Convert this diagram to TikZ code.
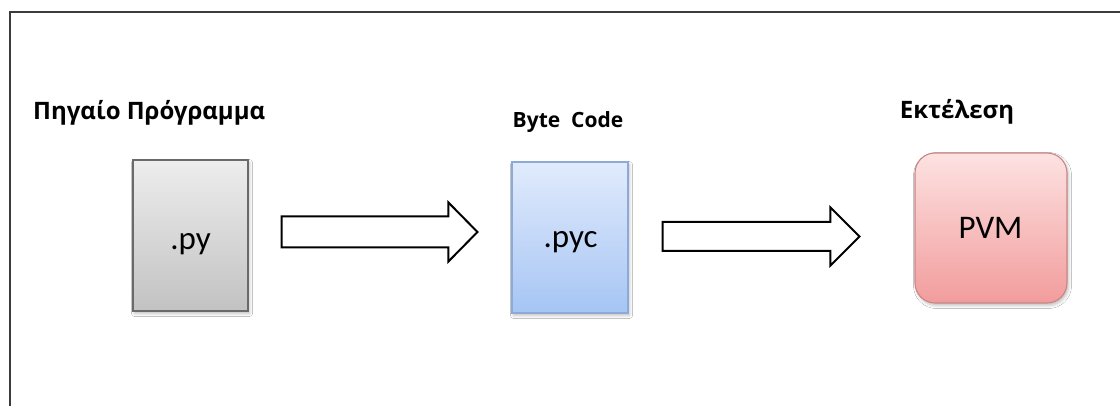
\documentclass[tikz,border=0pt]{standalone}
\usepackage{fontspec}
\setmainfont{Carlito}
\newfontfamily\headfont{Open Sans}
\usetikzlibrary{calc,shadows.blur}

\definecolor{frameline}{HTML}{3C3C3C}
\definecolor{srcTop}{HTML}{EDEDED}
\definecolor{srcBot}{HTML}{C2C2C2}
\definecolor{srcLine}{HTML}{6A6A6A}
\definecolor{bcTop}{HTML}{E1EBFC}
\definecolor{bcBot}{HTML}{A6C5F4}
\definecolor{bcLine}{HTML}{8DA9D8}
\definecolor{vmTop}{HTML}{FDE2E2}
\definecolor{vmBot}{HTML}{F29C9C}
\definecolor{vmLine}{HTML}{C98585}

\tikzset{
  frame/.style={draw=frameline, line width=2.2pt},
  filebox/.style={rectangle, inner sep=0pt, line width=1.1pt,
    blur shadow={shadow xshift=1.5pt, shadow yshift=-2.5pt,
      shadow blur radius=3pt, shadow opacity=25}},
  heading/.style={font=\headfont\bfseries\fontsize{21}{25}\selectfont,
    anchor=base, inner sep=0pt},
  greekheading/.style={heading, font=\headfont\bfseries\fontsize{24}{28}\selectfont},
  boxtext/.style={font=\fontsize{33}{38}\selectfont, anchor=base,
    inner sep=0pt, text=black},
  blockarrow/.style={draw=black, fill=white, line width=2pt,
    line join=miter},
}

% outlined block arrow from #1 to the tip #2
\newcommand{\blockarrow}[4]{%
  \draw[blockarrow]
    ($(#1)+(0,-#3)$) -- ($(#2)+(-29,-#3)$) -- ($(#2)+(-29,-#4)$)
    -- (#2) -- ($(#2)+(-29,#4)$) -- ($(#2)+(-29,#3)$)
    -- ($(#1)+(0,#3)$) -- cycle;}

\begin{document}
\begin{tikzpicture}[x=1pt,y=-1pt]
\useasboundingbox (0,0) rectangle (1120,406);
\fill[white] (0,0) rectangle (1120,406);

% page frame
\draw[frame] (10,406) -- (10,12) -- (1120,12);

% the three stages
\node[filebox, draw=srcLine, top color=srcTop, bottom color=srcBot,
  minimum width=115pt, minimum height=151pt] (py) at (190.5,235.5) {};
\node[filebox, draw=bcLine, top color=bcTop, bottom color=bcBot,
  minimum width=116pt, minimum height=151pt] (pyc) at (570,237.5) {};
\node[filebox, draw=vmLine, top color=vmTop, bottom color=vmBot,
  rounded corners=20pt,
  minimum width=152pt, minimum height=150pt] (pvm) at (991,228) {};

% contents of the boxes
\node[boxtext] (pytxt) at (190.5,250) {.py};
\node[boxtext] (pyctxt) at (570.5,248) {.pyc};
\node[boxtext] (pvmtxt) at (990.5,239) {PVM};

% headings
\node[greekheading, anchor=base west] (srchead) at (33,120) {Πηγαίο Πρόγραμμα};
\node[heading] (bchead) at (568,128) {Byte\ \ Code};
\node[greekheading] (exhead) at (957,119) {Εκτέλεση};

% arrows between the stages
\coordinate (a1s) at ($(py.east)+(33,-3.5)$);
\coordinate (a1e) at ($(pyc.west)+(-34,-5.5)$);
\coordinate (a2s) at ($(pyc.east)+(34,-1)$);
\coordinate (a2e) at ($(pvm.west)+(-55,8.5)$);
\blockarrow{a1s}{a1e}{15.5}{29.5}
\blockarrow{a2s}{a2e}{14.5}{29}
\end{tikzpicture}
\end{document}
